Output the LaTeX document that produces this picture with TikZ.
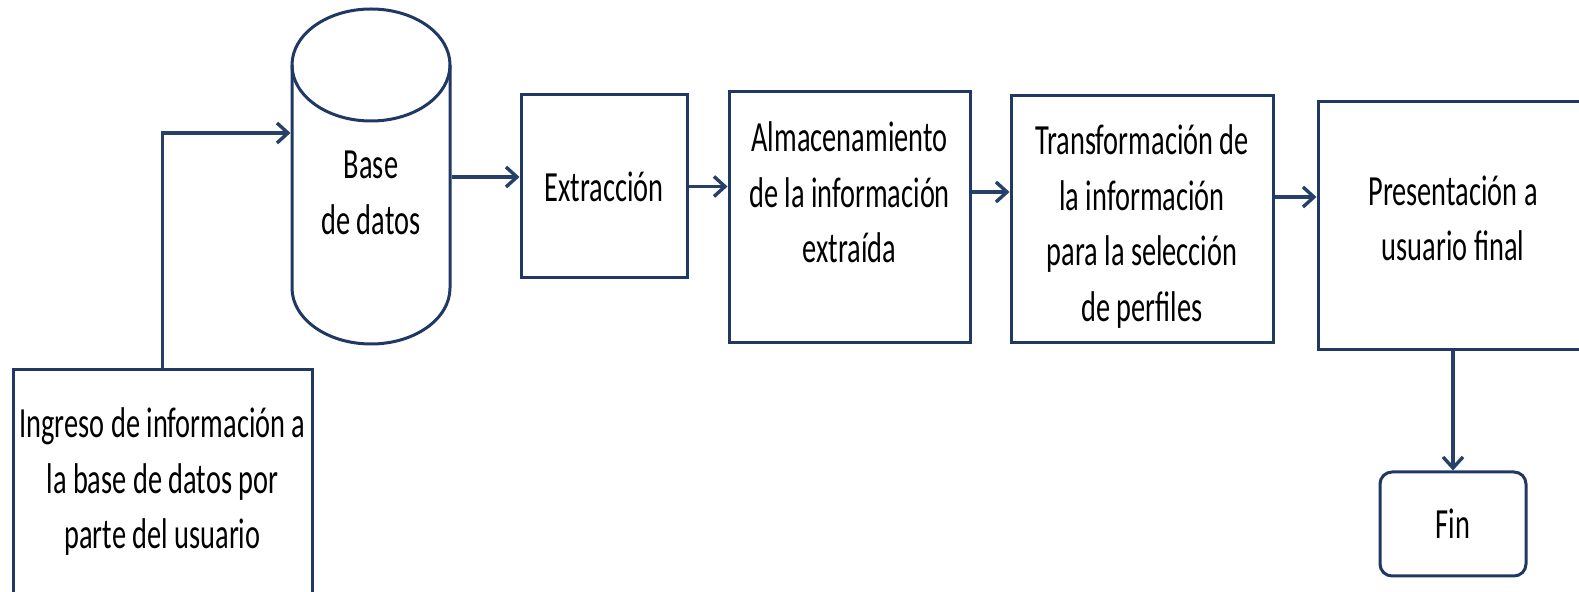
\documentclass[tikz,border=0pt]{standalone}
\usepackage{fontspec}
\setmainfont{Carlito}[FakeStretch=0.66]
\usetikzlibrary{arrows.meta}
\definecolor{boxblue}{RGB}{31,56,100}
\definecolor{arrowblue}{RGB}{38,64,104}

\begin{document}
\begin{tikzpicture}[x=0.5pt,y=-0.5pt,
  box/.style={draw=boxblue,line width=1.5pt,align=center,inner sep=0pt,
    font=\fontsize{21.5}{27.75}\selectfont},
  arr/.style={draw=arrowblue,line width=1.7pt,-{Straight Barb[length=5.5pt,width=10pt]}}]
  \useasboundingbox (0,0) rectangle (1579,592);

  \node[box,minimum width=149.5pt,minimum height=112pt] (ingreso) at (162.5,482)
    {Ingreso de información a\\la base de datos por\\parte del usuario};

  % base de datos
  \draw[boxblue,line width=1.5pt] (371,65) ellipse [x radius=39.5pt,y radius=28pt];
  \draw[boxblue,line width=1.5pt] (292,65) -- (292,288)
    arc[start angle=180,end angle=360,x radius=39.5pt,y radius=28pt] -- (450,65);
  \node[box,draw=none,minimum width=79pt] (db) at (371,193) {Base\\de datos};

  \node[box,minimum width=83pt,minimum height=91.5pt] (extr) at (604,186.5) {Extracción};
  \node[box,minimum width=120.5pt,minimum height=125.5pt] (alm) at (849.5,217.5)
    {Almacenamiento\\de la información\\extraída\rule[-25pt]{0pt}{0pt}};
  \node[box,minimum width=131pt,minimum height=123.5pt] (trans) at (1142,219.5)
    {\rule{0pt}{22pt}Transformación de\\la información\\para la selección\\de perfiles};
  \node[box,minimum width=135pt,minimum height=124pt] (pres) at (1453,226)
    {Presentación a\\usuario final\rule[-8pt]{0pt}{0pt}};
  \node[box,rounded corners=6pt,minimum width=73pt,minimum height=52pt] (fin) at (1453,524) {Fin};

  \draw[arr] (ingreso.north) |- (db.west |- 0,133);
  \draw[arr] (db.east |- 0,177) -- (extr.west |- 0,177);
  \draw[arr] (extr.east) -- (alm.west |- extr.east);
  \draw[arr] (alm.east |- 0,192) -- (trans.west |- 0,192);
  \draw[arr] (trans.east |- 0,197) -- (pres.west |- 0,197);
  \draw[arr] (pres.south) -- (fin.north);
\end{tikzpicture}
\end{document}
